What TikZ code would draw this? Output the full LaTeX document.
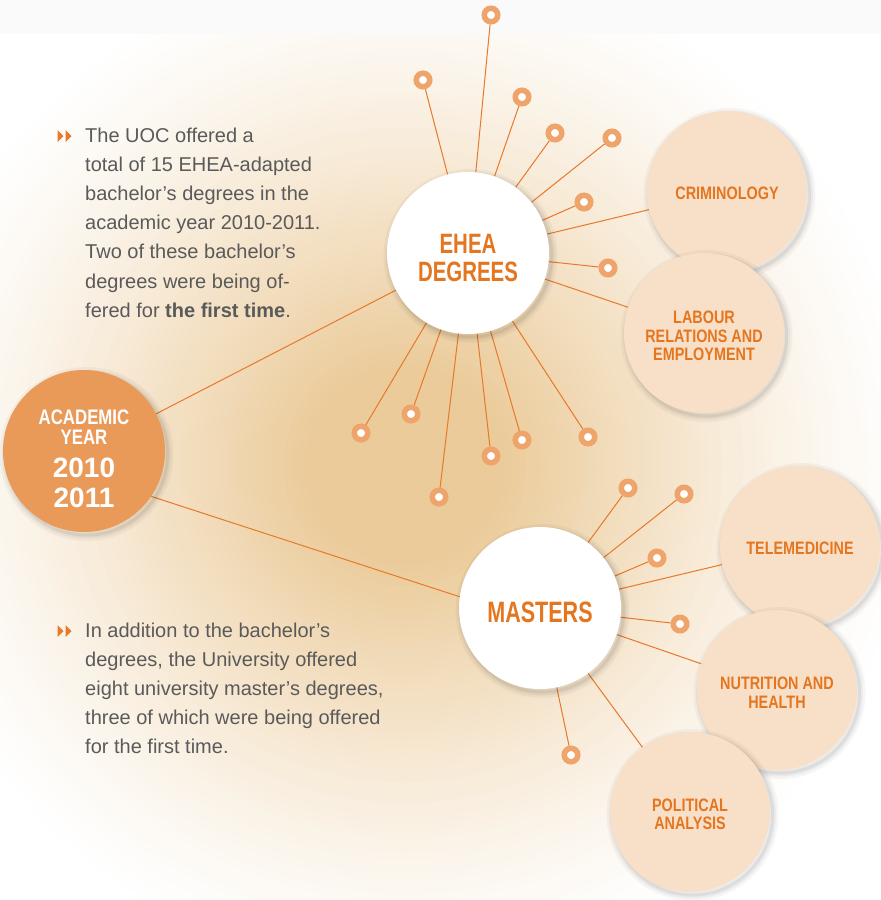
\documentclass[tikz,border=0pt]{standalone}
\usepackage{fontspec}
\setmainfont{Liberation Sans}
\newfontfamily\condf[FakeStretch=0.73]{Liberation Sans}
\newfontfamily\condl[FakeStretch=0.80]{Liberation Sans}
\newfontfamily\digf{Liberation Sans}
\definecolor{lineor}{HTML}{E8782A}
\definecolor{pinor}{HTML}{EEA46A}
\definecolor{txtor}{HTML}{E4761F}
\definecolor{acadfill}{HTML}{EA9A58}
\definecolor{peach}{HTML}{F8DFC8}
\definecolor{txtgray}{HTML}{5A5A5A}
\definecolor{bgA}{HTML}{EBCB9A}
\definecolor{topstrip}{HTML}{FAFAFA}
\pgfdeclarelayer{bg}
\pgfdeclarelayer{wires}
\pgfsetlayers{bg,wires,main}
\begin{document}
\begin{tikzpicture}[x=1pt,y=-1pt,
  ring/.style={circle, draw=pinor, line width=5.5pt, fill=white, minimum size=13.5pt, inner sep=0pt},
  wire/.style={draw=lineor, line width=1pt},
  softshadow/.style={
    preaction={draw=black, fill=none, opacity=0.035, line width=12pt, transform canvas={shift={(2.5pt,-3pt)}}},
    preaction={draw=black, fill=none, opacity=0.045, line width=7pt, transform canvas={shift={(2.5pt,-3pt)}}},
    preaction={draw=black, fill=none, opacity=0.06, line width=3pt, transform canvas={shift={(2.5pt,-3pt)}}}},
  hub/.style={circle, fill=white, minimum size=162pt, inner sep=0pt, softshadow},
  hubtext/.style={text=txtor, align=center, inner sep=0pt, font=\condf\bfseries\fontsize{28}{28}\selectfont},
  leaf/.style={circle, fill=peach, minimum size=160pt, inner sep=0pt, softshadow},
  leaftext/.style={text=txtor, align=center, inner sep=0pt, font=\condl\bfseries\fontsize{18}{18.5}\selectfont},
  body/.style={text=txtgray, align=left, anchor=north west, inner sep=0pt, font=\fontsize{20}{29.2}\selectfont}
]
\useasboundingbox (0,0) rectangle (881,900);
\begin{pgfonlayer}{bg}
\fill[white] (0,0) rectangle (881,900);
\begin{scope}
\clip (0,34) rectangle (881,900);
\foreach \i in {0,...,60}{
  \pgfmathsetmacro\rr{520-7*\i}
  \pgfmathsetmacro\tt{100*min(1,max(0.001,(520-\rr)/420)^1.3)}
  \fill[bgA!\tt!white] (405,465) circle (\rr);
}
\end{scope}
\fill[topstrip] (0,0) rectangle (881,34);
\end{pgfonlayer}

% text blocks
\node[body] (t1) at (85,127.4) {The UOC offered a\\total of 15 EHEA-adapted\\bachelor’s degrees in the\\academic year 2010-2011.\\Two of these bachelor’s\\degrees were being of-\\fered for \textbf{the first time}.};
\node[body] (t2) at (85,622.4) {In addition to the bachelor’s\\degrees, the University offered\\eight university master’s degrees,\\three of which were being offered\\for the first time.};
\fill[lineor] (57.5,130) -- (63.5,136) -- (57.5,142) -- cycle;
\fill[lineor] (65.5,130) -- (71.5,136) -- (65.5,142) -- cycle;
\fill[lineor] (57.5,625) -- (63.5,631) -- (57.5,637) -- cycle;
\fill[lineor] (65.5,625) -- (71.5,631) -- (65.5,637) -- cycle;

% main circles
\node[circle, fill=acadfill, minimum size=162pt, inner sep=0pt, softshadow] (acad) at (84,451) {};
\node[text=white, text width=150pt, align=center, inner sep=0pt] (acadtxt) at (84,459)
  {{\condl\bfseries\fontsize{21}{20}\selectfont ACADEMIC\\YEAR\par}\vspace{2.5pt}{\digf\bfseries\fontsize{28}{30}\selectfont 2010\\2011\par}};
\node[hub] (ehea) at (468,253) {};
\node[hubtext] (eheatxt) at (468,257.5) {EHEA\\DEGREES};
\node[hub] (mast) at (540,608) {};
\node[hubtext, font=\condf\bfseries\fontsize{29.5}{29.5}\selectfont] (masttxt) at (540,612.5) {MASTERS};

\node[leaf] (crim) at (727,191) {};
\node[leaftext] (crimtxt) at (727,193) {CRIMINOLOGY};
\node[leaf] (labour) at (704,333) {};
\node[leaftext] (labourtxt) at (704,336) {LABOUR\\RELATIONS AND\\EMPLOYMENT};
\node[leaf] (tele) at (800,546) {};
\node[leaftext] (teletxt) at (800,548.5) {TELEMEDICINE};
\node[leaf] (nutr) at (777,690) {};
\node[leaftext] (nutrtxt) at (777,692.5) {NUTRITION AND\\HEALTH};
\node[leaf] (pol) at (690,812) {};
\node[leaftext] (poltxt) at (690,814.5) {POLITICAL\\ANALYSIS};

% pins
\node[ring] (e1) at (491,15) {};
\node[ring] (e2) at (423,80) {};
\node[ring] (e3) at (522,97) {};
\node[ring] (e4) at (555,133) {};
\node[ring] (e5) at (612,138) {};
\node[ring] (e6) at (584,202) {};
\node[ring] (e7) at (608,268) {};
\node[ring] (e8) at (361,433) {};
\node[ring] (e9) at (411,414) {};
\node[ring] (e10) at (439,497) {};
\node[ring] (e11) at (491,456) {};
\node[ring] (e12) at (522,440) {};
\node[ring] (e13) at (588,437) {};
\node[ring] (m1) at (628,488) {};
\node[ring] (m2) at (684,494) {};
\node[ring] (m3) at (657,558) {};
\node[ring] (m4) at (680,624) {};
\node[ring] (m5) at (571,755) {};

\begin{pgfonlayer}{wires}
\foreach \p in {e1,e2,e3,e4,e5,e6,e7,e8,e9,e10,e11,e12,e13}
  \draw[wire] (ehea) -- (\p);
\foreach \p in {m1,m2,m3,m4,m5}
  \draw[wire] (mast) -- (\p);
\draw[wire] (ehea) -- (crim);
\draw[wire] (ehea) -- (labour);
\draw[wire] (mast) -- (tele);
\draw[wire] (mast) -- (nutr);
\draw[wire] (mast) -- (pol);
\draw[wire] (acad) -- (ehea);
\draw[wire] (acad.-34) -- (mast.172);
\end{pgfonlayer}
\end{tikzpicture}
\end{document}
